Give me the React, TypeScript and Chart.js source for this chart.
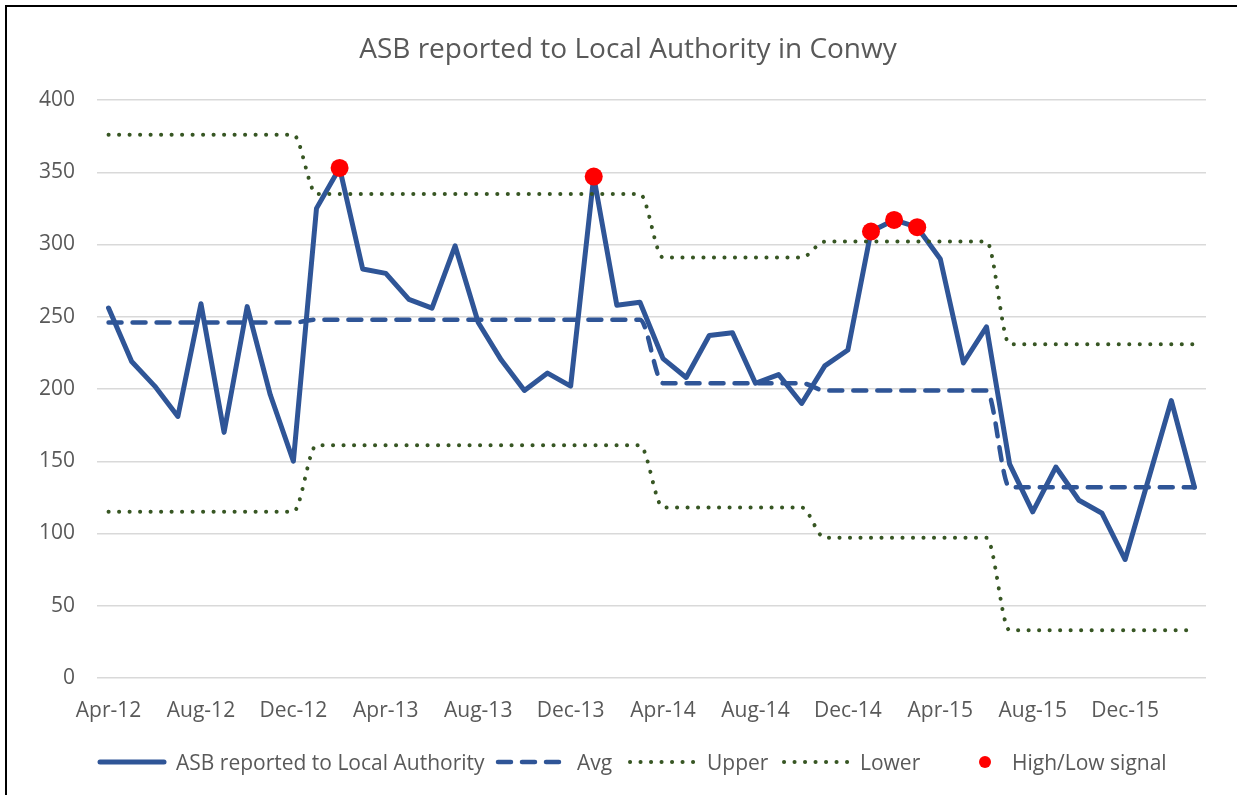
import React, { useEffect, useRef } from "react";
import { Chart, registerables } from "chart.js";

Chart.register(...registerables);

// ---------- data ----------
const months = [
  "Apr-12", "May-12", "Jun-12", "Jul-12", "Aug-12", "Sep-12", "Oct-12", "Nov-12", "Dec-12", "Jan-13", "Feb-13", "Mar-13",
  "Apr-13", "May-13", "Jun-13", "Jul-13", "Aug-13", "Sep-13", "Oct-13", "Nov-13", "Dec-13", "Jan-14", "Feb-14", "Mar-14",
  "Apr-14", "May-14", "Jun-14", "Jul-14", "Aug-14", "Sep-14", "Oct-14", "Nov-14", "Dec-14", "Jan-15", "Feb-15", "Mar-15",
  "Apr-15", "May-15", "Jun-15", "Jul-15", "Aug-15", "Sep-15", "Oct-15", "Nov-15", "Dec-15", "Jan-16", "Feb-16", "Mar-16",
];

const xTickLabels = [
  "Apr-12", "Aug-12", "Dec-12", "Apr-13", "Aug-13", "Dec-13",
  "Apr-14", "Aug-14", "Dec-14", "Apr-15", "Aug-15", "Dec-15",
];

const yTickValues = [0, 50, 100, 150, 200, 250, 300, 350, 400];

const asbValues = [
  256, 219, 202, 181, 259, 170, 257, 196, 150, 325, 353, 283,
  280, 262, 256, 299, 246, 220, 199, 211, 202, 347, 258, 260,
  221, 208, 237, 239, 204, 210, 190, 216, 227, 309, 317, 312,
  290, 218, 243, 148, 115, 146, 123, 114, 82, 137, 192, 132,
];

const avgValues = [
  246, 246, 246, 246, 246, 246, 246, 246, 246, 248, 248, 248,
  248, 248, 248, 248, 248, 248, 248, 248, 248, 248, 248, 248,
  204, 204, 204, 204, 204, 204, 204, 199, 199, 199, 199, 199,
  199, 199, 199, 132, 132, 132, 132, 132, 132, 132, 132, 132,
];

const upperValues = [
  376, 376, 376, 376, 376, 376, 376, 376, 376, 335, 335, 335,
  335, 335, 335, 335, 335, 335, 335, 335, 335, 335, 335, 335,
  291, 291, 291, 291, 291, 291, 291, 302, 302, 302, 302, 302,
  302, 302, 302, 231, 231, 231, 231, 231, 231, 231, 231, 231,
];

const lowerValues = [
  115, 115, 115, 115, 115, 115, 115, 115, 115, 161, 161, 161,
  161, 161, 161, 161, 161, 161, 161, 161, 161, 161, 161, 161,
  118, 118, 118, 118, 118, 118, 118, 97, 97, 97, 97, 97,
  97, 97, 97, 33, 33, 33, 33, 33, 33, 33, 33, 33,
];

const signalValues = [
  null, null, null, null, null, null, null, null, null, null, 353, null,
  null, null, null, null, null, null, null, null, null, 347, null, null,
  null, null, null, null, null, null, null, null, null, 309, 317, 312,
  null, null, null, null, null, null, null, null, null, null, null, null,
];

const seriesNames = ["ASB reported to Local Authority", "Avg", "Upper", "Lower", "High/Low signal"];
const chartTitle = "ASB reported to Local Authority in Conwy";

// ---------- styles ----------
const BLUE = "#2F5597";
const GREEN = "#375623";
const RED = "#FF0000";
const TEXT = "#595959";
const FONT = "'Open Sans', 'Noto Sans', sans-serif";

const overlayPlugin = {
  id: "overlay",
  afterDraw(chart: any) {
    const ctx = chart.ctx as CanvasRenderingContext2D;
    ctx.save();
    // title
    ctx.fillStyle = TEXT;
    ctx.font = `28px ${FONT}`;
    ctx.textAlign = "center";
    ctx.textBaseline = "alphabetic";
    ctx.fillText(chartTitle, 628, 58);

    // legend
    const sampleStart = [100, 498, 630, 784, 952];
    const textStart = [176, 577, 707, 860, 1012];
    const sampleW = 64;
    const ly = 762;
    ctx.font = `21px ${FONT}`;
    ctx.textAlign = "left";
    ctx.textBaseline = "alphabetic";
    chart.data.datasets.forEach((ds: any, i: number) => {
      const sx = sampleStart[i];
      ctx.save();
      if (ds.showLine === false) {
        ctx.fillStyle = ds.pointBackgroundColor;
        ctx.beginPath();
        ctx.arc(985, ly, 6, 0, Math.PI * 2);
        ctx.fill();
      } else {
        ctx.strokeStyle = ds.borderColor;
        ctx.lineWidth = ds.borderWidth;
        ctx.lineCap = ds.borderCapStyle || "butt";
        ctx.setLineDash(ds.borderDash || []);
        ctx.beginPath();
        ctx.moveTo(sx, ly);
        ctx.lineTo(sx + sampleW, ly);
        ctx.stroke();
      }
      ctx.restore();
      ctx.fillStyle = TEXT;
      ctx.fillText(ds.label, textStart[i], 770);
    });
    ctx.restore();
  },
};

export default function App() {
  const canvasRef = useRef<HTMLCanvasElement | null>(null);

  useEffect(() => {
    const canvas = canvasRef.current;
    if (!canvas) return;
    let chart: Chart | null = null;
    let cancelled = false;

    const build = () => {
      if (cancelled) return;
      chart = new Chart(canvas, {
        type: "line",
        data: {
          labels: months,
          datasets: [
            {
              label: seriesNames[0],
              data: asbValues,
              borderColor: BLUE,
              backgroundColor: BLUE,
              borderWidth: 5,
              borderJoinStyle: "round",
              borderCapStyle: "round",
              pointRadius: 0,
              tension: 0,
              order: 5,
            },
            {
              label: seriesNames[1],
              data: avgValues,
              borderColor: BLUE,
              backgroundColor: BLUE,
              borderWidth: 4.5,
              borderDash: [13, 11],
              borderCapStyle: "round",
              pointRadius: 0,
              cubicInterpolationMode: "monotone",
              tension: 0.4,
              order: 4,
            },
            {
              label: seriesNames[2],
              data: upperValues,
              borderColor: GREEN,
              backgroundColor: GREEN,
              borderWidth: 4,
              borderDash: [0.1, 10.4],
              borderCapStyle: "round",
              pointRadius: 0,
              cubicInterpolationMode: "monotone",
              tension: 0.4,
              order: 3,
            },
            {
              label: seriesNames[3],
              data: lowerValues,
              borderColor: GREEN,
              backgroundColor: GREEN,
              borderWidth: 4,
              borderDash: [0.1, 10.4],
              borderCapStyle: "round",
              pointRadius: 0,
              cubicInterpolationMode: "monotone",
              tension: 0.4,
              order: 2,
            },
            {
              label: seriesNames[4],
              data: signalValues,
              showLine: false,
              borderColor: RED,
              backgroundColor: RED,
              pointBackgroundColor: RED,
              pointBorderColor: RED,
              pointBorderWidth: 0,
              pointRadius: 9,
              pointHoverRadius: 9,
              order: 1,
            } as any,
          ],
        },
        options: {
          responsive: false,
          maintainAspectRatio: false,
          animation: false,
          devicePixelRatio: 1,
          events: [],
          layout: { padding: { left: 0, right: 33, top: 100, bottom: 57 } },
          plugins: {
            legend: { display: false },
            title: { display: false },
            tooltip: { enabled: false },
          },
          scales: {
            x: {
              type: "category",
              offset: true,
              grid: { display: false, drawTicks: false },
              border: { display: false },
              ticks: {
                autoSkip: false,
                maxRotation: 0,
                minRotation: 0,
                padding: 20,
                color: TEXT,
                font: { family: FONT, size: 21 },
                callback: (_v: any, i: number) => (xTickLabels.includes(months[i]) ? months[i] : ""),
              },
              afterFit: (s: any) => {
                s.height = 60;
              },
            },
            y: {
              min: yTickValues[0],
              max: yTickValues[yTickValues.length - 1],
              grid: { color: "#D9D9D9", lineWidth: 1.5, drawTicks: false },
              border: { display: false },
              ticks: {
                stepSize: yTickValues[1] - yTickValues[0],
                padding: 22,
                color: TEXT,
                font: { family: FONT, size: 21 },
              },
              afterFit: (s: any) => {
                s.width = 97;
              },
            },
          },
        },
        plugins: [overlayPlugin],
      } as any);
    };

    const fonts = (document as any).fonts;
    if (fonts && fonts.load) {
      Promise.all([fonts.load(`21px "Open Sans"`), fonts.load(`28px "Open Sans"`)])
        .catch(() => {})
        .finally(build);
    } else {
      build();
    }

    return () => {
      cancelled = true;
      if (chart) chart.destroy();
    };
  }, []);

  return (
    <div
      style={{
        position: "fixed",
        left: 0,
        top: 0,
        width: 1239,
        height: 795,
        background: "#ffffff",
        overflow: "hidden",
      }}
    >
      <canvas
        ref={canvasRef}
        width={1239}
        height={795}
        style={{ position: "absolute", left: 0, top: 0, width: 1239, height: 795, display: "block" }}
      />
      <div
        style={{
          position: "absolute",
          left: 5,
          top: 5,
          width: 1230,
          height: 800,
          borderTop: "2px solid #000",
          borderLeft: "2px solid #000",
          pointerEvents: "none",
        }}
      />
    </div>
  );
}
